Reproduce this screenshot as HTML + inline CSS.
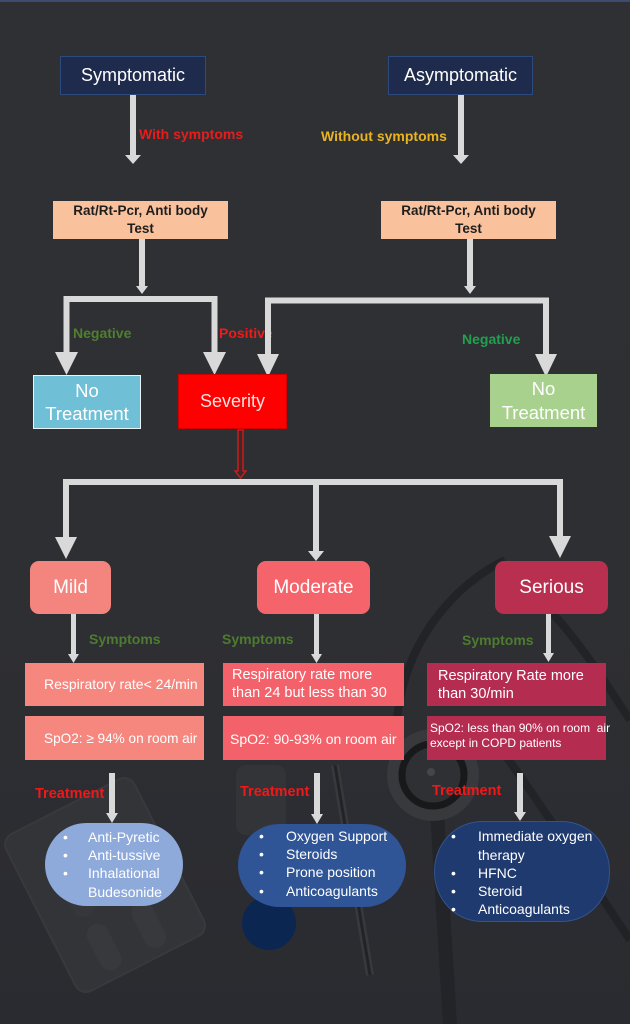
<!DOCTYPE html>
<html><head><meta charset="utf-8">
<style>
*{margin:0;padding:0;box-sizing:border-box}
html,body{width:630px;height:1024px;overflow:hidden;background:#2e2f33}
body{position:relative;font-family:"Liberation Sans",Arial,sans-serif;color:#fff}
.box{position:absolute;display:flex;align-items:center;justify-content:center;text-align:center;color:#fff}
.lbl{position:absolute;white-space:nowrap;font-weight:bold;line-height:16px}
.t{position:absolute;white-space:nowrap;color:#fff;font-size:14px;line-height:18px}
.b{position:absolute;color:#fff;font-size:14px;line-height:18px}
</style></head><body>

<!-- background imagery -->
<svg width="630" height="1024" style="position:absolute;left:0;top:0">
  <defs>
    <linearGradient id="bg" x1="0" y1="0" x2="0" y2="1">
      <stop offset="0" stop-color="#2f3034"/>
      <stop offset="0.6" stop-color="#2e2f33"/>
      <stop offset="1" stop-color="#2a2b30"/>
    </linearGradient>
  </defs>
  <rect width="630" height="1024" fill="url(#bg)"/>
  <rect x="0" y="0" width="630" height="2" fill="#3f4c70"/>
  <!-- pill pack -->
  <g transform="translate(105,885) rotate(-27)">
    <rect x="-72" y="-88" width="144" height="176" rx="12" fill="#333438" stroke="#38393d" stroke-width="2"/>
    <rect x="-40" y="30" width="22" height="50" rx="11" fill="#38393d"/>
    <rect x="10" y="30" width="22" height="50" rx="11" fill="#38393d"/>
    <rect x="-40" y="-30" width="22" height="50" rx="11" fill="#36373b"/>
    <rect x="10" y="-30" width="22" height="50" rx="11" fill="#36373b"/>
  </g>
  <!-- vial -->
  <rect x="236" y="765" width="50" height="70" rx="10" fill="#333438"/>
  <!-- syringe -->
  <line x1="335" y1="765" x2="370" y2="975" stroke="#38393d" stroke-width="8"/>
  <line x1="335" y1="765" x2="370" y2="975" stroke="#222326" stroke-width="3"/>
  <!-- stethoscope tubes -->
  <path d="M505 560 C455 585 412 635 400 700 C392 740 395 760 398 770" fill="none" stroke="#1f2023" stroke-width="8" opacity="0.8"/>
  <path d="M540 600 C580 640 610 690 630 720" fill="none" stroke="#1f2023" stroke-width="8" opacity="0.8"/>
  <path d="M505 755 C545 810 590 880 630 940" fill="none" stroke="#1f2023" stroke-width="8" opacity="0.8"/>
  <path d="M437 812 C441 880 446 950 450 1024" fill="none" stroke="#222326" stroke-width="14" opacity="0.85"/>
  <!-- stethoscope head -->
  <circle cx="433" cy="775" r="46" fill="#38393d"/>
  <circle cx="433" cy="775" r="31" fill="#2f3033" stroke="#18191b" stroke-width="7"/>
  <circle cx="431" cy="772" r="4" fill="#45464a"/>
  <!-- dark blue cap -->
  <circle cx="269" cy="923" r="27" fill="#0b2650"/>
</svg>

<!-- labels (under arrows) -->
<div class="lbl" style="left:139px;top:126px;font-size:14px;color:#e81c1c">With symptoms</div>
<div class="lbl" style="left:321px;top:128px;font-size:14px;color:#e8b422">Without symptoms</div>
<div class="lbl" style="left:73px;top:325px;font-size:14px;color:#4f7f2f">Negative</div>
<div class="lbl" style="left:219px;top:325px;font-size:14px;color:#f01a1a">Positive</div>
<div class="lbl" style="left:462px;top:331px;font-size:14px;color:#22a04f">Negative</div>
<div class="lbl" style="left:89px;top:631px;font-size:14px;color:#4d7c30">Symptoms</div>
<div class="lbl" style="left:222px;top:631px;font-size:14px;color:#4d7c30">Symptoms</div>
<div class="lbl" style="left:462px;top:632px;font-size:14px;color:#4d7c30">Symptoms</div>
<div class="lbl" style="left:35px;top:786px;font-size:14.5px;color:#f01818">Treatment</div>
<div class="lbl" style="left:240px;top:784px;font-size:14.5px;color:#f01818">Treatment</div>
<div class="lbl" style="left:432px;top:783px;font-size:14.5px;color:#f01818">Treatment</div>

<!-- arrows -->
<svg width="630" height="1024" style="position:absolute;left:0;top:0">
  <g fill="#d9d9d9">
    <rect x="130" y="95" width="6" height="61"/><polygon points="125,155 141,155 133,164"/>
    <rect x="458" y="95" width="6" height="61"/><polygon points="453,155 469,155 461,164"/>
    <rect x="139" y="239" width="6" height="48"/><polygon points="136,286 148,286 142,294"/>
    <rect x="467" y="239" width="6" height="48"/><polygon points="464,286 476,286 470,294"/>
    <polygon points="55,352 78,352 66.5,375"/>
    <polygon points="203,352 226,352 214.5,375"/>
    <polygon points="257,354 279,354 268,377"/>
    <polygon points="535,354 557,354 546,377"/>
    <polygon points="55,537 77,537 66,559"/>
    <polygon points="549,536 571,536 560,558"/>
    <polygon points="308,551 324,551 316,561"/>
    <rect x="71" y="614" width="5" height="42"/><polygon points="68,654 79,654 73.5,663"/>
    <rect x="314" y="614" width="5" height="42"/><polygon points="311,654 322,654 316.5,663"/>
    <rect x="546" y="614" width="5" height="42"/><polygon points="543,653 554,653 548.5,662"/>
    <rect x="109" y="773" width="6" height="41"/><polygon points="106,813 118,813 112,823"/>
    <rect x="314" y="773" width="6" height="42"/><polygon points="311,814 323,814 317,824"/>
    <rect x="517" y="773" width="6" height="40"/><polygon points="514,812 526,812 520,821"/>
  </g>
  <g fill="none" stroke="#d9d9d9" stroke-width="6" stroke-linejoin="miter">
    <polyline points="66.5,353 66.5,299 214.5,299 214.5,353"/>
    <polyline points="268,355 268,300.5 546,300.5 546,355"/>
    <polyline points="66,538 66,482 560,482 560,537"/>
    <line x1="316" y1="482" x2="316" y2="552"/>
  </g>
  <polygon points="238,430 243,430 243,471 246,471 240.5,478 235,471 238,471" fill="#3a2a2c" stroke="#e01818" stroke-width="1.3"/>
</svg>

<!-- top boxes -->
<div class="box" style="left:60px;top:56px;width:146px;height:39px;background:#1e2b4d;border:1px solid #2d4a7e;font-size:18px">Symptomatic</div>
<div class="box" style="left:388px;top:56px;width:145px;height:39px;background:#1e2b4d;border:1px solid #2d4a7e;font-size:18px">Asymptomatic</div>

<!-- test boxes -->
<div class="box" style="left:53px;top:201px;width:175px;height:38px;background:#f9c19c;color:#1e1e1e;font-weight:bold;font-size:13.5px;line-height:18px">Rat/Rt-Pcr, Anti body<br>Test</div>
<div class="box" style="left:381px;top:201px;width:175px;height:38px;background:#f9c19c;color:#1e1e1e;font-weight:bold;font-size:13.5px;line-height:18px">Rat/Rt-Pcr, Anti body<br>Test</div>

<!-- outcome boxes -->
<div class="box" style="left:33px;top:375px;width:108px;height:54px;background:#6fc0d6;border:1px solid #e8f4f8;font-size:18.5px;line-height:23px">No<br>Treatment</div>
<div class="box" style="left:178px;top:374px;width:109px;height:55px;background:#ff0000;border:1px solid #d00000;font-size:18px;color:#fbe0e0">Severity</div>
<div class="box" style="left:490px;top:374px;width:107px;height:53px;background:#a9d18e;font-size:18.5px;line-height:24px">No<br>Treatment</div>

<!-- severity boxes -->
<div class="box" style="left:30px;top:561px;width:81px;height:53px;background:#f3857e;border-radius:9px;font-size:19px">Mild</div>
<div class="box" style="left:257px;top:561px;width:113px;height:53px;background:#f5646b;border-radius:9px;font-size:19px">Moderate</div>
<div class="box" style="left:495px;top:561px;width:113px;height:53px;background:#b82f50;border-radius:9px;font-size:19px">Serious</div>

<!-- symptom boxes -->
<div style="position:absolute;left:25px;top:663px;width:179px;height:43px;background:#f5877f"></div>
<div style="position:absolute;left:223px;top:663px;width:181px;height:43px;background:#f3626a"></div>
<div style="position:absolute;left:427px;top:663px;width:179px;height:43px;background:#b52c51"></div>
<div style="position:absolute;left:25px;top:716px;width:179px;height:44px;background:#f5877f"></div>
<div style="position:absolute;left:223px;top:716px;width:181px;height:44px;background:#f3626a"></div>
<div style="position:absolute;left:427px;top:716px;width:179px;height:44px;background:#b52c51"></div>

<div class="t" style="left:44px;top:675px">Respiratory rate&lt; 24/min</div>
<div class="t" style="left:232px;top:666px;font-size:14.5px">Respiratory rate more</div>
<div class="t" style="left:232px;top:684px;font-size:14.5px">than 24 but less than 30</div>
<div class="t" style="left:438px;top:667px;font-size:14.5px">Respiratory Rate more</div>
<div class="t" style="left:438px;top:685px;font-size:14.5px">than 30/min</div>

<div class="t" style="left:44px;top:730px;font-size:13.6px">SpO2: ≥ 94% on room air</div>
<div class="t" style="left:230px;top:730px">SpO2: 90-93% on room air</div>
<div class="t" style="left:430px;top:721px;font-size:12px;line-height:15px">SpO2: less than 90% on room&nbsp; air</div>
<div class="t" style="left:430px;top:736px;font-size:12px;line-height:15px">except in COPD patients</div>

<!-- treatment pills -->
<div style="position:absolute;left:45px;top:823px;width:138px;height:83px;background:#8eaadb;border-radius:42px"></div>
<div style="position:absolute;left:238px;top:824px;width:168px;height:83px;background:#2f5597;border-radius:42px"></div>
<div style="position:absolute;left:434px;top:821px;width:176px;height:101px;background:#1f3a6e;border:1px solid #34538c;border-radius:48px/50px"></div>

<div class="b" style="left:63px;top:828px">•</div><div class="t" style="left:88px;top:828px">Anti-Pyretic</div>
<div class="b" style="left:63px;top:846px">•</div><div class="t" style="left:88px;top:846px">Anti-tussive</div>
<div class="b" style="left:63px;top:864px">•</div><div class="t" style="left:88px;top:864px">Inhalational</div>
<div class="t" style="left:88px;top:883px">Budesonide</div>

<div class="b" style="left:259px;top:827px">•</div><div class="t" style="left:286px;top:827px">Oxygen Support</div>
<div class="b" style="left:259px;top:845px">•</div><div class="t" style="left:286px;top:845px">Steroids</div>
<div class="b" style="left:259px;top:863px">•</div><div class="t" style="left:286px;top:863px">Prone position</div>
<div class="b" style="left:259px;top:882px">•</div><div class="t" style="left:286px;top:882px">Anticoagulants</div>

<div class="b" style="left:451px;top:827px">•</div><div class="t" style="left:478px;top:827px">Immediate oxygen</div>
<div class="t" style="left:478px;top:846px">therapy</div>
<div class="b" style="left:451px;top:864px">•</div><div class="t" style="left:478px;top:864px">HFNC</div>
<div class="b" style="left:451px;top:882px">•</div><div class="t" style="left:478px;top:882px">Steroid</div>
<div class="b" style="left:451px;top:900px">•</div><div class="t" style="left:478px;top:900px">Anticoagulants</div>

</body></html>
